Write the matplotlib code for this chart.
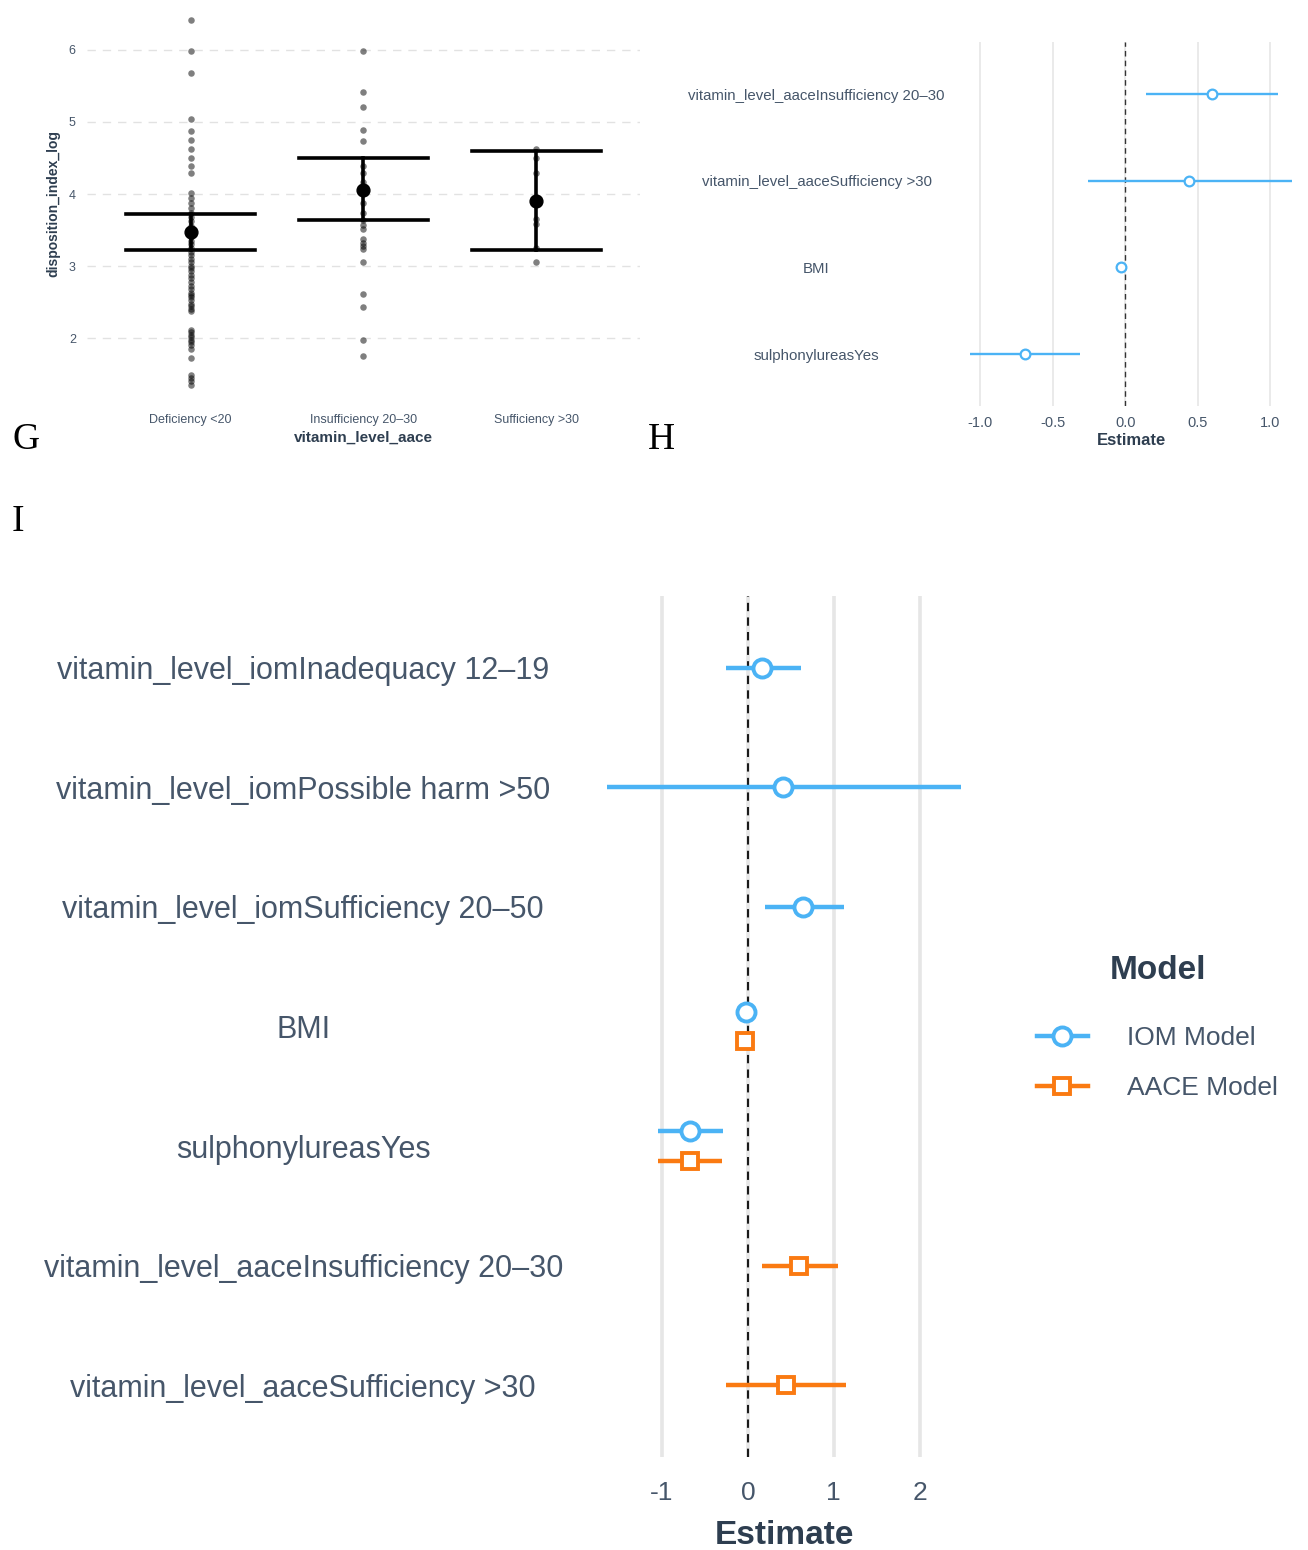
import matplotlib.pyplot as plt
from matplotlib.lines import Line2D
import numpy as np

plt.rcParams['font.family'] = ['Liberation Sans', 'DejaVu Sans']
plt.rcParams['axes.unicode_minus'] = False

# ---- panel G: disposition index by vitamin level (AACE) ----
g_categories = ['Deficiency <20', 'Insufficiency 20–30', 'Sufficiency >30']
g_deficiency = [6.42, 5.99, 5.68, 5.04, 4.88, 4.75, 4.62, 4.50, 4.39, 4.29,
                4.02, 3.94, 3.87, 3.80, 3.73, 3.68, 3.62, 3.55, 3.50, 3.45,
                3.40, 3.35, 3.30, 3.25, 3.20, 3.15, 3.10, 3.05, 3.00, 2.97,
                2.93, 2.88, 2.83, 2.78, 2.72, 2.68, 2.63, 2.60, 2.57, 2.53,
                2.48, 2.44, 2.40, 2.37, 2.11, 2.08, 2.05, 2.02, 1.98, 1.95,
                1.90, 1.85, 1.72, 1.49, 1.45, 1.40, 1.35]
g_insufficiency = [5.99, 5.42, 5.21, 4.89, 4.74, 4.39, 4.29, 4.17, 3.87, 3.73,
                   3.64, 3.57, 3.51, 3.37, 3.32, 3.28, 3.24, 3.05, 2.61, 2.43,
                   1.97, 1.75]
g_sufficiency = [4.62, 4.50, 4.29, 3.65, 3.59, 3.25, 3.05]
g_means = [3.47, 4.06, 3.91]
g_lower = [3.22, 3.64, 3.23]
g_upper = [3.72, 4.50, 4.60]

# ---- panel H: AACE model coefficients ----
h_terms = ['vitamin_level_aaceInsufficiency 20–30', 'vitamin_level_aaceSufficiency >30',
           'BMI', 'sulphonylureasYes']
h_est = [0.60, 0.44, -0.03, -0.69]
h_low = [0.14, -0.26, -0.05, -1.07]
h_high = [1.05, 1.15, -0.01, -0.31]

# ---- panel I: IOM vs AACE model coefficients ----
i_terms = ['vitamin_level_iomInadequacy 12–19', 'vitamin_level_iomPossible harm >50',
           'vitamin_level_iomSufficiency 20–50', 'BMI', 'sulphonylureasYes',
           'vitamin_level_aaceInsufficiency 20–30', 'vitamin_level_aaceSufficiency >30']
iom_terms = ['vitamin_level_iomInadequacy 12–19', 'vitamin_level_iomPossible harm >50',
             'vitamin_level_iomSufficiency 20–50', 'BMI', 'sulphonylureasYes']
iom_est = [0.17, 0.41, 0.64, -0.02, -0.67]
iom_low = [-0.25, -1.64, 0.20, -0.05, -1.04]
iom_high = [0.62, 2.48, 1.12, 0.01, -0.29]
aace_terms = ['BMI', 'sulphonylureasYes', 'vitamin_level_aaceInsufficiency 20–30',
              'vitamin_level_aaceSufficiency >30']
aace_est = [-0.03, -0.67, 0.60, 0.44]
aace_low = [-0.05, -1.04, 0.16, -0.25]
aace_high = [-0.01, -0.30, 1.05, 1.14]

blue = '#4BB3F5'
orange = '#FA7A12'
label_col = '#46566A'
title_col = '#2E3E50'

fig = plt.figure(figsize=(13.08, 15.5), dpi=100)

# panel G
axg = fig.add_axes([0.0665, 0.74, 0.4228, 0.258])
groups = [g_deficiency, g_insufficiency, g_sufficiency]
for i, vals in enumerate(groups):
    xpos = i + 1
    axg.scatter(np.full(len(vals), xpos), vals, s=22, color='black', alpha=0.5,
                linewidths=0, zorder=3)
    axg.plot([xpos, xpos], [g_lower[i], g_upper[i]], color='black', lw=2.6, zorder=4)
    for yv in (g_lower[i], g_upper[i]):
        axg.plot([xpos - 0.375, xpos + 0.375], [yv, yv], color='black', lw=2.6, zorder=4)
    axg.scatter([xpos], [g_means[i]], s=85, color='black', zorder=5)
axg.set_xlim(0.4, 3.6)
axg.set_ylim(1.1, 6.65)
axg.set_xticks([1, 2, 3])
axg.set_xticklabels(g_categories)
axg.set_yticks([2, 3, 4, 5, 6])
axg.yaxis.grid(True, ls=(0, (6, 5)), color='#E2E2E2', lw=1)
axg.xaxis.grid(False)
axg.tick_params(length=0, labelsize=9, labelcolor=label_col)
axg.tick_params(axis='x', pad=8)
axg.tick_params(axis='y', pad=8)
axg.set_xlabel('vitamin_level_aace', fontsize=11, fontweight='bold', color=title_col, labelpad=3)
axg.set_ylabel('disposition_index_log', fontsize=10, fontweight='bold', color=title_col, labelpad=6)
for s in axg.spines.values():
    s.set_visible(False)

# panel H
axh = fig.add_axes([0.7294, 0.738, 0.2706, 0.2348])
yh = np.arange(len(h_terms))
axh.hlines(yh, h_low, h_high, color=blue, lw=1.7, zorder=3)
axh.plot(h_est, yh, 'o', ms=7, mfc='white', mec=blue, mew=1.6, zorder=4)
axh.axvline(0, color='#333333', ls=(0, (4, 3)), lw=1, zorder=2)
axh.set_xlim(-1.18, 1.26)
axh.set_ylim(len(h_terms) - 0.4, -0.6)
axh.set_xticks([-1.0, -0.5, 0.0, 0.5, 1.0])
axh.set_xticklabels(['-1.0', '-0.5', '0.0', '0.5', '1.0'])
axh.set_yticks(yh)
axh.set_yticklabels(h_terms)
for lab in axh.get_yticklabels():
    lab.set_horizontalalignment('center')
axh.xaxis.grid(True, color='#E6E6E6', lw=1.2)
axh.yaxis.grid(False)
axh.tick_params(length=0, labelsize=10.5, labelcolor=label_col)
axh.tick_params(axis='y', pad=99, labelsize=10.8)
axh.tick_params(axis='x', pad=7)
axh.set_xlabel('Estimate', fontsize=12, fontweight='bold', color=title_col, labelpad=2)
for s in axh.spines.values():
    s.set_visible(False)

# panel I
axi = fig.add_axes([0.4495, 0.06, 0.2997, 0.5555])
dodge = 0.125
for terms, est, low, high, col, mk, ms, other in [
        (iom_terms, iom_est, iom_low, iom_high, blue, 'o', 13, aace_terms),
        (aace_terms, aace_est, aace_low, aace_high, orange, 's', 12, iom_terms)]:
    sign = -1 if mk == 'o' else 1
    ys = [i_terms.index(t) + (sign * dodge if t in other else 0) for t in terms]
    axi.hlines(ys, low, high, color=col, lw=3.2, zorder=3)
    axi.plot(est, ys, mk, ms=ms, mfc='white', mec=col, mew=2.8, zorder=4, ls='none')
axi.axvline(0, color='#1A1A1A', ls=(0, (4, 3)), lw=1.5, zorder=2)
axi.set_xlim(-1.86, 2.70)
axi.set_ylim(len(i_terms) - 0.4, -0.6)
axi.set_xticks([-1, 0, 1, 2])
axi.set_yticks(range(len(i_terms)))
axi.set_yticklabels(i_terms)
for lab in axi.get_yticklabels():
    lab.set_horizontalalignment('center')
axi.xaxis.grid(True, color='#E6E6E6', lw=2.6)
axi.yaxis.grid(False)
axi.tick_params(length=0, labelsize=19, labelcolor=label_col)
axi.tick_params(axis='y', pad=205, labelsize=22)
axi.tick_params(axis='x', pad=17)
axi.set_xlabel('Estimate', fontsize=24, fontweight='bold', color=title_col, labelpad=11)
for s in axi.spines.values():
    s.set_visible(False)

handles = [Line2D([], [], color=blue, lw=3.2, marker='o', ms=13, mfc='white', mec=blue, mew=2.8),
           Line2D([], [], color=orange, lw=3.2, marker='s', ms=12, mfc='white', mec=orange, mew=2.8)]
leg = fig.legend(handles, ['IOM Model', 'AACE Model'], loc='center left',
                 bbox_to_anchor=(0.7928, 0.337), frameon=False, fontsize=19,
                 title='Model', handlelength=1.93, handletextpad=1.5, labelspacing=0.98,
                 borderpad=0, borderaxespad=0)
leg.get_title().set_fontsize(24)
leg.get_title().set_fontweight('bold')
leg.get_title().set_color(title_col)
for t in leg.get_texts():
    t.set_color(label_col)
leg._legend_box.sep = 29

# panel letters
for letter, x, y in [('G', 12, 440), ('H', 648, 440), ('I', 12, 522)]:
    fig.text(x / 1308, 1 - y / 1550, letter, family='Liberation Serif', fontsize=27,
             va='center', ha='left', color='black')

fig.savefig('out.png', dpi=100)
